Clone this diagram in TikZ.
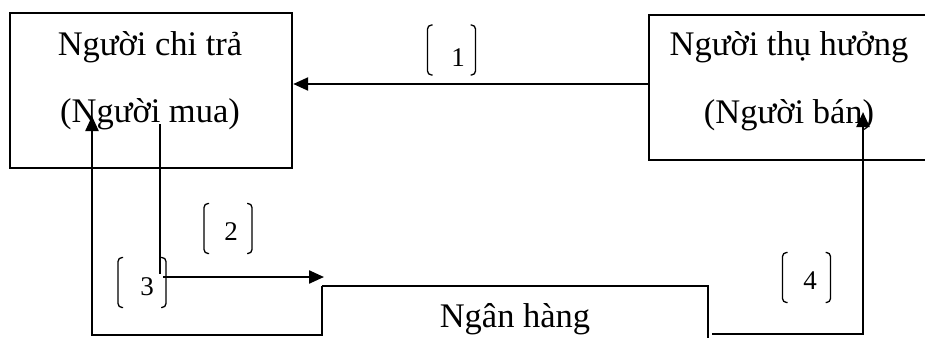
\documentclass[tikz,border=0pt]{standalone}
\usepackage{fontspec}
\setmainfont{Liberation Serif}
\usetikzlibrary{arrows.meta}
\newcommand\blabel[6]{%
  \draw[brk] (#2-19,#3-25) -- (#2-24,#3-25) -- (#2-24,#3+25) -- (#2-19,#3+25);
  \draw[brk] (#2+19,#3-25) -- (#2+24,#3-25) -- (#2+24,#3+25) -- (#2+19,#3+25);
  \node[num] (#1) at (#2+#4,#3+#5) {#6};}
\begin{document}
\begin{tikzpicture}[x=1pt,y=-1pt,
  big/.style={font=\fontsize{34.5}{40}\selectfont, inner sep=0pt, anchor=base},
  num/.style={font=\fontsize{27}{32}\selectfont, inner sep=0pt},
  boxline/.style={draw, line width=2.2pt, anchor=north west},
  conn/.style={line width=2.3pt},
  thinline/.style={line width=1.2pt},
  tip/.style={-{Triangle[length=15pt,width=13pt]}},
  brk/.style={line width=1.3pt, rounded corners=4pt}]
\path[use as bounding box, clip] (0,0) rectangle (925,338);

% boxes
\node[boxline, minimum width=282pt, minimum height=155pt] (payer) at (9,12) {};
\node[boxline, minimum width=300pt, minimum height=145pt] (payee) at (648,14) {};

\node[big] (payer1) at (150,55) {Người chi trả};
\node[big] (payer2) at (150,122) {(Người mua)};
\node[big] (payee1) at (789,55) {Người thụ hưởng};
\node[big] (payee2) at (789,123) {(Người bán)};

% bank
\coordinate (bTL) at (322,286);
\coordinate (bTR) at (708,286);
\coordinate (bBL) at (322,335);
\coordinate (bBR) at (708,338);
\node[big] (bank) at (515,327) {Ngân hàng};
\draw[conn] (bTL) -- (bTR) -- (bBR);

% arrow 1
\draw[conn, tip] (payee.west |- 0,84) -- (payer.east |- 0,84);

% arrow 2
\coordinate (s2) at (160,124);
\coordinate (k2) at (160,274);
\coordinate (h2) at (163,277);
\coordinate (e2) at (324,277);
\draw[thinline] (s2) -- (k2);
\draw[conn, tip] (h2) -- (e2);

% arrow 3
\coordinate (k3) at (92,335);
\coordinate (e3) at (92,116);
\draw[conn, tip] (bTL) -- (bBL) -- (k3) -- (e3);

% arrow 4
\coordinate (s4) at (712,334);
\coordinate (k4) at (863,334);
\coordinate (e4) at (863,112);
\draw[conn, tip] (s4) -- (k4) -- (e4);

% labels
\blabel{l1}{451.5}{50}{6.5}{8}{1}
\blabel{l2}{228}{228.5}{3}{3.5}{2}
\blabel{l3}{142}{282.5}{5}{4.5}{3}
\blabel{l4}{806.5}{277.5}{3.5}{3.5}{4}
\end{tikzpicture}
\end{document}
